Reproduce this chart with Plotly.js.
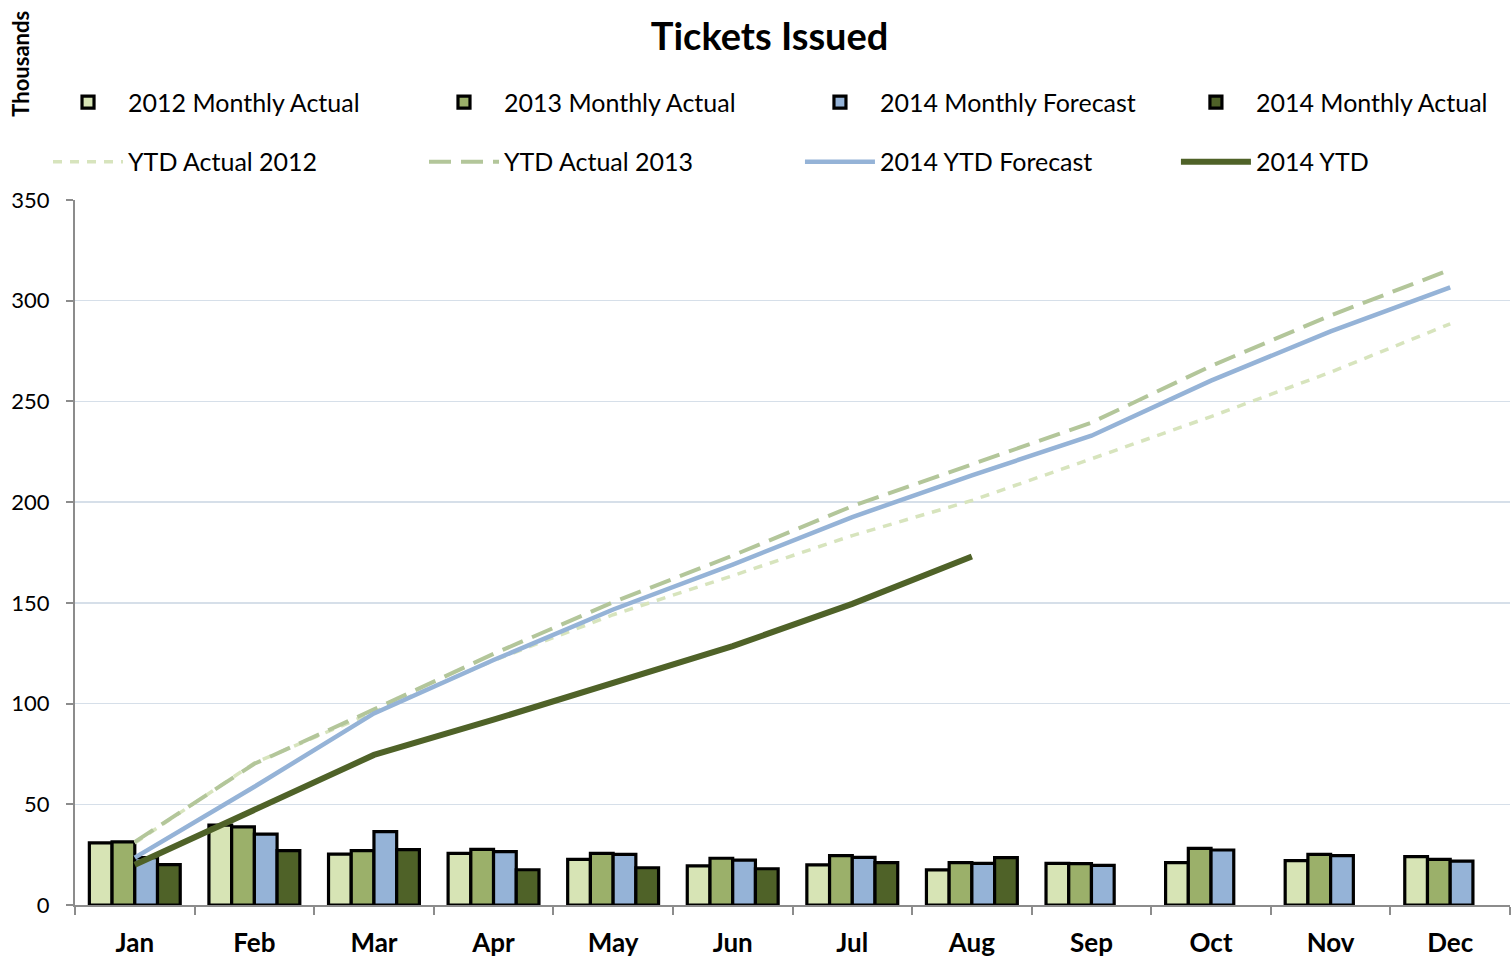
<!DOCTYPE html>
<html>
<head>
<meta charset="utf-8">
<script src="https://cdn.plot.ly/plotly-3.0.1.min.js"></script>
<style>html,body{margin:0;padding:0;background:#fff;}#chart{width:1512px;height:959px;}</style>
</head>
<body>
<div id="chart"></div>
<script>
const months = ["Jan","Feb","Mar","Apr","May","Jun","Jul","Aug","Sep","Oct","Nov","Dec"];
const monthly2012 = [30.8, 39.7, 25.3, 25.6, 22.7, 19.4, 19.9, 17.4, 20.7, 21.0, 22.0, 24.0];
const monthly2013 = [31.3, 38.8, 27.0, 27.6, 25.6, 23.2, 24.5, 21.0, 20.5, 28.1, 25.1, 22.7];
const forecast2014 = [23.5, 35.2, 36.4, 26.5, 25.1, 22.3, 23.6, 20.7, 19.7, 27.3, 24.5, 21.8];
const actual2014 = [20.0, 27.0, 27.5, 17.5, 18.5, 18.0, 21.0, 23.5, null, null, null, null];
const ytd2012 = [30.8, 70.5, 95.8, 121.4, 144.1, 163.5, 183.4, 200.8, 221.5, 242.5, 264.5, 288.5];
const ytd2013 = [31.3, 70.1, 97.1, 124.7, 150.3, 173.5, 198.0, 219.0, 239.5, 267.6, 292.7, 315.4];
const ytdForecast2014 = [23.5, 58.7, 95.1, 121.6, 146.7, 169.0, 192.6, 213.3, 233.0, 260.3, 284.8, 306.6];
const ytd2014 = [20.0, 47.0, 74.5, 92.0, 110.5, 128.5, 149.5, 173.0];
const yTicks = [0, 50, 100, 150, 200, 250, 300, 350];

const FONT = "Lato, 'Open Sans', sans-serif";
const barLine = {color: "#000000", width: 3.2};

const traces = [
  {type: "bar", name: "2012 Monthly Actual", x: months, y: monthly2012, marker: {color: "#d7e4b5", line: barLine}, legend: "legend", legendgroup: "a1"},
  {type: "bar", name: "2013 Monthly Actual", x: months, y: monthly2013, marker: {color: "#9bb06a", line: barLine}, legend: "legend2", legendgroup: "b1"},
  {type: "bar", name: "2014 Monthly Forecast", x: months, y: forecast2014, marker: {color: "#95b3d7", line: barLine}, legend: "legend3", legendgroup: "c1"},
  {type: "bar", name: "2014 Monthly Actual", x: months, y: actual2014, marker: {color: "#4f6228", line: barLine}, legend: "legend4", legendgroup: "d1"},
  {type: "scatter", mode: "lines", name: "YTD Actual 2012", x: months, y: ytd2012, line: {color: "#d7e4bd", width: 3.5, dash: "9px,8px"}, legend: "legend", legendgroup: "a2"},
  {type: "scatter", mode: "lines", name: "YTD Actual 2013", x: months, y: ytd2013, line: {color: "#b3c69a", width: 4, dash: "22px,10px"}, legend: "legend2", legendgroup: "b2"},
  {type: "scatter", mode: "lines", name: "2014 YTD Forecast", x: months, y: ytdForecast2014, line: {color: "#95b3d7", width: 4.5}, legend: "legend3", legendgroup: "c2"},
  {type: "scatter", mode: "lines", name: "2014 YTD", x: months.slice(0, ytd2014.length), y: ytd2014, line: {color: "#4f6228", width: 6}, legend: "legend4", legendgroup: "d2"}
];

function legendAt(x) {
  return {
    orientation: "v", xanchor: "left", yanchor: "top", x: x, y: 1.171,
    itemwidth: 70, tracegroupgap: 24, traceorder: "grouped",
    font: {family: FONT, size: 25, color: "#000"}, bgcolor: "rgba(0,0,0,0)"
  };
}

const layout = {
  width: 1512, height: 959,
  margin: {l: 75, r: 2, t: 200, b: 54},
  paper_bgcolor: "#fff", plot_bgcolor: "#fff",
  font: {family: FONT, color: "#000"},
  title: {text: "<b>Tickets Issued</b>", x: 0.509, xanchor: "center", y: 0.962, yanchor: "middle", font: {family: FONT, size: 38, color: "#000"}},
  barmode: "group", bargap: 0.24, bargroupgap: 0,
  showlegend: true,
  legend: legendAt(-0.0188),
  legend2: legendAt(0.2432),
  legend3: legendAt(0.5052),
  legend4: legendAt(0.7672),
  xaxis: {
    type: "category", showgrid: false, showline: true, linecolor: "#8c8c8c", linewidth: 2,
    ticks: "outside", tickson: "boundaries", ticklen: 8, tickcolor: "#8c8c8c", tickwidth: 2,
    ticklabelstandoff: 14,
    tickfont: {family: FONT, size: 26, color: "#000", weight: "bold"}, fixedrange: true
  },
  yaxis: {
    range: [0, 350], tickvals: yTicks, showgrid: true, gridcolor: "#d6dfe9", gridwidth: 1.5,
    showline: true, linecolor: "#8c8c8c", linewidth: 2, ticks: "outside", ticklen: 7, tickcolor: "#8c8c8c", tickwidth: 2,
    ticklabelstandoff: 12,
    tickfont: {family: FONT, size: 22, color: "#000"}, zeroline: false, fixedrange: true
  },
  annotations: [
    {text: "<b>Thousands</b>", textangle: -90, xref: "paper", yref: "paper", x: -0.038, y: 1.194, xanchor: "center", yanchor: "middle", showarrow: false, font: {family: FONT, size: 22, color: "#000"}}
  ]
};

Plotly.newPlot("chart", traces, layout, {displayModeBar: false, staticPlot: true});
</script>
</body>
</html>
